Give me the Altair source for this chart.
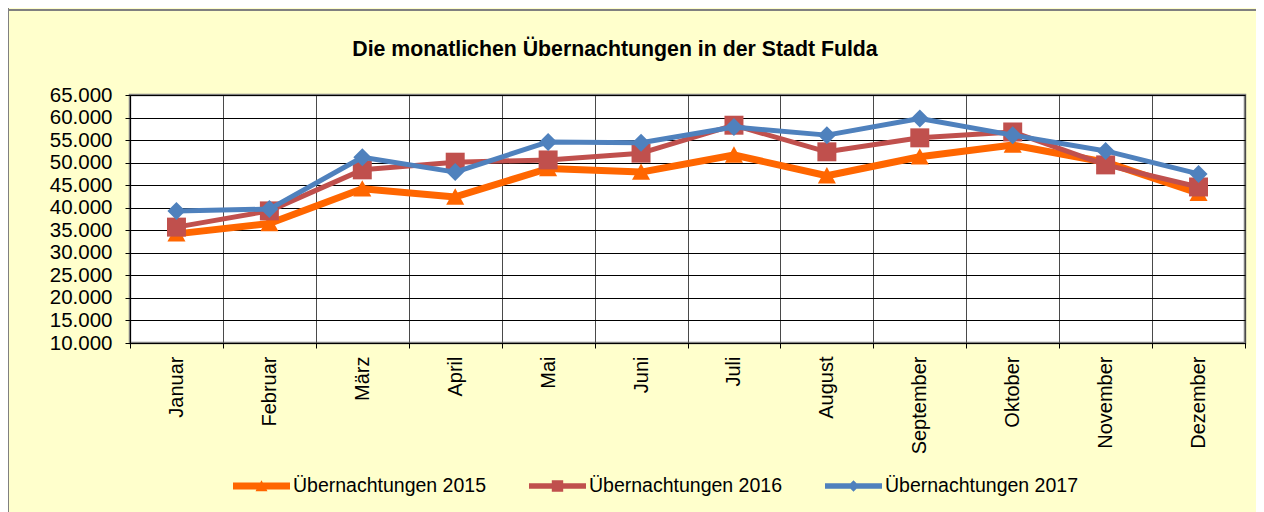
import altair as alt
import pandas as pd

months = ["Januar", "Februar", "März", "April", "Mai", "Juni", "Juli",
          "August", "September", "Oktober", "November", "Dezember"]
series = ["Übernachtungen 2015", "Übernachtungen 2016", "Übernachtungen 2017"]
v2015 = [34200, 36500, 44200, 42400, 48700, 47900, 51700, 47100, 51300, 53900, 50100, 43200]
v2016 = [35700, 39300, 48400, 50100, 50600, 52100, 58300, 52400, 55500, 56800, 49500, 44600]
v2017 = [39300, 39700, 51200, 47900, 54600, 54400, 57900, 56100, 59800, 56100, 52600, 47500]
values = [v2015, v2016, v2017]
colors = ["#FF6600", "#C0504D", "#4F81BD"]
# marker outlines in unit coordinates (triangle, square, diamond)
marker_paths = [
    "M-0.21,0.18L0,-0.2L0.21,0.18Z",
    "M-0.2,-0.2H0.2V0.2H-0.2Z",
    "M0,-0.2L0.2,0L0,0.2L-0.2,0Z",
]
marker_sizes = [7400, 9000, 8100]
line_widths = [7, 5, 5]
y_ticks = list(range(10000, 65001, 5000))
title_text = "Die monatlichen Übernachtungen in der Stadt Fulda"

FONT = "Liberation Sans"

rows = []
for s, vals in zip(series, values):
    for m, v in zip(months, vals):
        rows.append({"Monat": m, "Wert": v, "Serie": s})
df = pd.DataFrame(rows)
one = pd.DataFrame({"t": [title_text]})

# legend symbols: a bar (the line) plus the series marker in the middle
line_half = ["0.12", "0.1", "0.1"]
legend_paths = [
    "M-1,-{h}H1V{h}H-1Z".format(h=h) + p for h, p in zip(line_half, marker_paths)
]

legend = alt.Legend(title=None, orient="none", legendX=103, legendY=362.5,
                    direction="horizontal", symbolSize=3249, symbolStrokeWidth=0,
                    symbolOpacity=1, labelFont=FONT, labelFontSize=19.5, labelColor="#000",
                    labelOffset=3, columnPadding=43, padding=0, labelLimit=400)

x_enc = alt.X("Monat:N", sort=months,
              scale=alt.Scale(type="band", domain=months, paddingInner=0, paddingOuter=0),
              axis=alt.Axis(title=None, labelAngle=-90, tickBand="extent", grid=True,
                            gridColor="#4a4a4a", gridWidth=1, tickSize=5, tickColor="#000",
                            labelPadding=8, labelFont=FONT, labelFontSize=20, labelColor="#000",
                            domainColor="#000"))
y_enc = alt.Y("Wert:Q", scale=alt.Scale(domain=[10000, 65000], nice=False, zero=False),
              axis=alt.Axis(title=None, values=y_ticks,
                            labelExpr="replace(format(datum.value, ','), ',', '.')",
                            grid=True, gridColor="#000", gridWidth=1, tickSize=5,
                            tickColor="#000", labelPadding=13, labelFont=FONT,
                            labelFontSize=20.5, labelColor="#000", domainColor="#000"))

layers = []
for i, s in enumerate(series):
    base = alt.Chart(df).transform_filter(alt.datum.Serie == s)
    line = base.mark_line(strokeWidth=line_widths[i], strokeJoin="round", strokeCap="round",
                          color=colors[i]).encode(x=x_enc, y=y_enc)
    pts = base.mark_point(filled=True, size=marker_sizes[i], opacity=1, strokeWidth=0,
                          fill=colors[i], shape=marker_paths[i]).encode(x=x_enc, y=y_enc)
    layers += [line, pts]

# legend-only layer (no marks drawn): carries the series colour and symbol scales
legend_layer = alt.Chart(df).transform_filter("false").mark_point(
    filled=True, opacity=1, strokeWidth=0).encode(
    x=x_enc, y=y_enc,
    fill=alt.Fill("Serie:N", scale=alt.Scale(domain=series, range=colors), legend=legend),
    shape=alt.Shape("Serie:N", scale=alt.Scale(domain=series, range=legend_paths), legend=legend),
)

title = alt.Chart(one).mark_text(font=FONT, fontSize=21.3, fontWeight="bold", color="#000",
                                 align="center", baseline="alphabetic").encode(
    text="t:N", x=alt.value(485), y=alt.value(-39))
top_rule = alt.Chart(one).mark_rule(color="#808080", strokeWidth=2).encode(
    x=alt.value(-122), x2=alt.value(1134), y=alt.value(-85))
left_rule = alt.Chart(one).mark_rule(color="#808080", strokeWidth=2).encode(
    x=alt.value(-122), y=alt.value(-95), y2=alt.value(417))

chart = alt.layer(top_rule, left_rule, title, *layers, legend_layer).properties(
    width=1115, height=248,
    autosize="none",
    padding={"left": 122, "top": 87, "right": 11, "bottom": 169},
    background="#FFFFCC",
).configure_view(
    stroke="#808080", strokeWidth=2.5, fill="#FFFFFF"
)

chart.save("out.html", embed_options={"renderer": "svg", "actions": False})
